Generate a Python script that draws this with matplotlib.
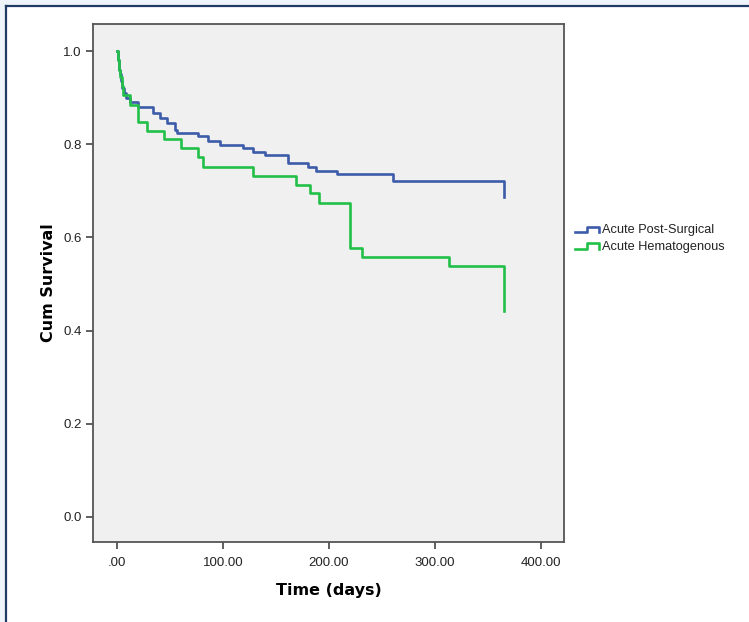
import matplotlib
matplotlib.use("Agg")
import matplotlib.pyplot as plt
from matplotlib.lines import Line2D
from matplotlib.legend_handler import HandlerBase
from matplotlib.patches import Rectangle

plt.rcParams['font.family'] = ['Liberation Sans', 'DejaVu Sans']

# Kaplan-Meier step data (time in days, cumulative survival after step)
post_surg_t = [0, 1, 2, 3, 4, 5, 7, 9, 12, 20, 34, 41, 47, 55, 57, 76, 86, 97,
               119, 128, 140, 161, 180, 188, 208, 260, 365]
post_surg_s = [1.0, 0.98, 0.96, 0.95, 0.935, 0.92, 0.91, 0.90, 0.89, 0.88, 0.867,
               0.856, 0.845, 0.830, 0.824, 0.818, 0.807, 0.798, 0.792, 0.783,
               0.777, 0.760, 0.751, 0.742, 0.736, 0.721, 0.687]

hema_t = [0, 1, 2, 3, 5, 6, 12, 20, 28, 44, 60, 76, 81, 128, 169, 182, 191,
          220, 231, 313, 365]
hema_s = [1.0, 0.98, 0.96, 0.945, 0.925, 0.905, 0.884, 0.848, 0.828, 0.811,
          0.792, 0.772, 0.751, 0.732, 0.712, 0.695, 0.674, 0.577, 0.558, 0.539,
          0.442]

series_names = ["Acute Post-Surgical", "Acute Hematogenous"]
series_colors = ["#3c5ba9", "#22c048"]

x_ticks = [0, 100, 200, 300, 400]
x_tick_labels = [".00", "100.00", "200.00", "300.00", "400.00"]
y_ticks = [0.0, 0.2, 0.4, 0.6, 0.8, 1.0]
y_tick_labels = ["0.0", "0.2", "0.4", "0.6", "0.8", "1.0"]

fig = plt.figure(figsize=(7.49, 6.22), dpi=100)
fig.patch.set_facecolor("#ffffff")

# page frame (light outer margin and navy border on top/left)
W, H = 749, 622
fig.patches.append(Rectangle((0, 0), 1, 1, transform=fig.transFigure,
                             facecolor="#eef4f9", edgecolor="none", zorder=-3))
fig.patches.append(Rectangle((6 / W, 0), 1, 1 - 6 / H, transform=fig.transFigure,
                             facecolor="#ffffff", edgecolor="none", zorder=-2))
fig.lines.append(Line2D([6 / W, 6 / W], [0, 1 - 6 / H], transform=fig.transFigure,
                        color="#1f3a64", lw=1.6))
fig.lines.append(Line2D([6 / W, 1], [1 - 6 / H, 1 - 6 / H], transform=fig.transFigure,
                        color="#1f3a64", lw=1.6))

ax = fig.add_axes([93 / W, 1 - 542 / H, (564 - 93) / W, (542 - 24) / H])
ax.set_facecolor("#f0f0f0")

l1, = ax.step(post_surg_t, post_surg_s, where="post", color=series_colors[0], lw=1.9)
l2, = ax.step(hema_t, hema_s, where="post", color=series_colors[1], lw=1.9)

ax.set_xlim(-22.6, 421.7)
ax.set_ylim(-0.054, 1.058)
ax.set_xticks(x_ticks)
ax.set_xticklabels(x_tick_labels)
ax.set_yticks(y_ticks)
ax.set_yticklabels(y_tick_labels)
ax.tick_params(direction="out", length=5, width=1.2, color="#444444",
               labelsize=9.5, labelcolor="#222222", pad=3)
ax.tick_params(axis="x", pad=6)
for sp in ax.spines.values():
    sp.set_color("#555555")
    sp.set_linewidth(1.3)

ax.set_xlabel("Time (days)", fontsize=11.5, fontweight="bold", labelpad=10,
              family=['DejaVu Sans'])
ax.set_ylabel("Cum Survival", fontsize=11.5, fontweight="bold", labelpad=5,
              family=['DejaVu Sans'])


class StepHandler(HandlerBase):
    def create_artists(self, legend, orig_handle, xdescent, ydescent, width,
                       height, fontsize, trans):
        x0, x1 = -xdescent, -xdescent + width
        yl, yh = -ydescent + height * 0.1, -ydescent + height * 0.7
        xs = [x0, x0 + width * 0.45, x0 + width * 0.45, x1 - width * 0.08, x1 - width * 0.08]
        ys = [yl, yl, yh, yh, yl]
        ln = Line2D(xs, ys, color=orig_handle.get_color(), lw=1.9, transform=trans)
        return [ln]


leg = fig.legend([l1, l2], series_names, loc="upper left",
                 bbox_to_anchor=(570 / W, 1 - 219 / H), frameon=False,
                 fontsize=9.2, handlelength=2.0, handletextpad=0.1,
                 labelspacing=0.35, borderaxespad=0,
                 handler_map={Line2D: StepHandler()})
for t in leg.get_texts():
    t.set_color("#222222")

fig.savefig("out.png", dpi=100)
